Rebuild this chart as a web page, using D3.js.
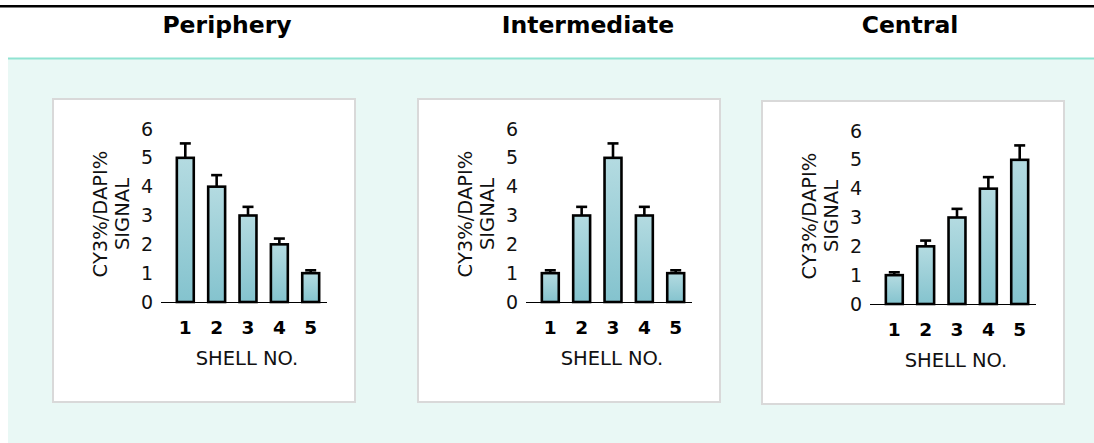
<!DOCTYPE html>
<html>
<head>
<meta charset="utf-8">
<script src="https://cdn.jsdelivr.net/npm/d3@7/dist/d3.min.js"></script>
<style>
  html, body { margin: 0; padding: 0; background: #ffffff; }
  svg { display: block; font-family: "DejaVu Sans", Verdana, sans-serif; }
</style>
</head>
<body>
<svg id="chart" width="1094" height="443"></svg>
<script>
// ---- data ----
const shells = ["1", "2", "3", "4", "5"];
const panelTitles = ["Periphery", "Intermediate", "Central"];
const peripheryValues = [5, 4, 3, 2, 1];
const peripheryErrors = [0.5, 0.4, 0.3, 0.2, 0.1];
const intermediateValues = [1, 3, 5, 3, 1];
const intermediateErrors = [0.1, 0.3, 0.5, 0.3, 0.1];
const centralValues = [1, 2, 3, 4, 5];
const centralErrors = [0.1, 0.2, 0.3, 0.4, 0.5];
const yTicks = [0, 1, 2, 3, 4, 5, 6];
const yLabelLines = ["CY3%/DAPI%", "SIGNAL"];
const xLabel = "SHELL NO.";

const series = [
  { title: panelTitles[0], values: peripheryValues, errors: peripheryErrors },
  { title: panelTitles[1], values: intermediateValues, errors: intermediateErrors },
  { title: panelTitles[2], values: centralValues, errors: centralErrors }
];

// ---- layout ----
const svg = d3.select("#chart");
const W = 1094, H = 443;

const defs = svg.append("defs");
const grad = defs.append("linearGradient").attr("id", "barGrad")
  .attr("x1", 0).attr("y1", 0).attr("x2", 0).attr("y2", 1);
grad.append("stop").attr("offset", "0%").attr("stop-color", "#b4dbe1");
grad.append("stop").attr("offset", "100%").attr("stop-color", "#84c3ce");

// top black rule
svg.append("rect").attr("x", 0).attr("y", 5).attr("width", W).attr("height", 2.5).attr("fill", "#000");
// light background band
svg.append("rect").attr("x", 8).attr("y", 58).attr("width", W - 8).attr("height", H - 58).attr("fill", "#e9f8f5");
svg.append("rect").attr("x", 8).attr("y", 57.5).attr("width", W - 8).attr("height", 2).attr("fill", "#90e3d2");

const titleX = [227, 588, 910];
const boxes = [
  { x: 53, y: 99 },
  { x: 418, y: 99 },
  { x: 762, y: 101 }
];
const boxW = 302, boxH = 303;
const FONT = "'DejaVu Sans', Verdana, sans-serif";

series.forEach((s, i) => {
  svg.append("text")
    .attr("x", titleX[i]).attr("y", 33)
    .attr("text-anchor", "middle")
    .attr("font-weight", "bold")
    .attr("font-size", 23.5)
    .attr("fill", "#000")
    .text(s.title);

  const b = boxes[i];
  const g = svg.append("g").attr("transform", `translate(${b.x},${b.y})`);
  g.append("rect").attr("x", 0).attr("y", 0).attr("width", boxW).attr("height", boxH)
    .attr("fill", "#fff").attr("stroke", "#d9d9d9").attr("stroke-width", 2);

  const x = d3.scaleBand().domain(shells).range([116, 274]).paddingInner(0.46).paddingOuter(0.25);
  const y = d3.scaleLinear().domain([0, 6]).range([203, 30]);

  // y axis labels only
  const yAxis = g.append("g").attr("transform", "translate(116,0)")
    .call(d3.axisLeft(y).tickValues(yTicks).tickSize(0).tickPadding(16).tickFormat(d3.format("d")));
  yAxis.select(".domain").remove();
  yAxis.selectAll("text").attr("font-size", 19).attr("fill", "#111").attr("font-family", FONT);

  const data = shells.map((k, j) => ({ k, v: s.values[j], e: s.errors[j] }));
  // error bars
  const eg = g.append("g").attr("stroke", "#000").attr("stroke-width", 2.6).attr("fill", "none");
  eg.selectAll("line.v").data(data).join("line").attr("class", "v")
    .attr("x1", d => x(d.k) + x.bandwidth() / 2).attr("x2", d => x(d.k) + x.bandwidth() / 2)
    .attr("y1", d => y(d.v)).attr("y2", d => y(d.v + d.e));
  eg.selectAll("line.c").data(data).join("line").attr("class", "c")
    .attr("x1", d => x(d.k) + x.bandwidth() / 2 - 5.5).attr("x2", d => x(d.k) + x.bandwidth() / 2 + 5.5)
    .attr("y1", d => y(d.v + d.e)).attr("y2", d => y(d.v + d.e));

  // bars
  g.selectAll("rect.bar").data(data).join("rect").attr("class", "bar")
    .attr("x", d => x(d.k)).attr("width", x.bandwidth())
    .attr("y", d => y(d.v)).attr("height", d => y(0) - y(d.v))
    .attr("fill", "url(#barGrad)").attr("stroke", "#000").attr("stroke-width", 2.6);

  // x axis
  const xAxis = g.append("g").attr("transform", `translate(0,${y(0)})`)
    .call(d3.axisBottom(x).tickSize(0).tickSizeOuter(0).tickPadding(19));
  xAxis.select(".domain").attr("stroke", "#000").attr("stroke-width", 1.2)
    .attr("d", `M${116 - 8},0.5H${274}`);
  xAxis.selectAll("text").attr("font-size", 18.5).attr("font-weight", "bold").attr("fill", "#000")
    .attr("font-family", FONT);

  g.append("text").attr("x", 194).attr("y", 266)
    .attr("text-anchor", "middle").attr("font-size", 19.5).attr("fill", "#111")
    .text(xLabel);

  // y label
  const yl = g.append("text").attr("transform", "translate(0,115) rotate(-90)")
    .attr("text-anchor", "middle").attr("font-size", 19.5).attr("fill", "#111");
  yLabelLines.forEach((t, j) => {
    yl.append("tspan").attr("x", 0).attr("y", 54 + j * 22).text(t);
  });
});
</script>
</body>
</html>
